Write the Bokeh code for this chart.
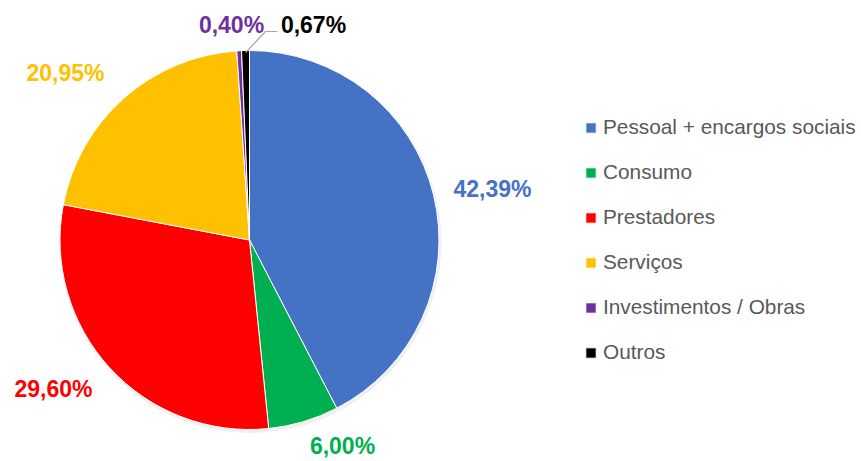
import math
from bokeh.plotting import figure
from bokeh.models import ColumnDataSource, Range1d, Legend, LegendItem
from bokeh.core.properties import value
from bokeh.embed import file_html
from bokeh.resources import INLINE

categories = ["Pessoal + encargos sociais", "Consumo", "Prestadores", "Serviços",
              "Investimentos / Obras", "Outros"]
values = [42.39, 6.00, 29.60, 20.95, 0.40, 0.67]
labels = ["42,39%", "6,00%", "29,60%", "20,95%", "0,40%", "0,67%"]
colors = ["#4472C4", "#00B050", "#FF0000", "#FFC000", "#7030A0", "#000000"]

W, H = 861, 461
cx, cy, R = 249, H - 239.5, 189.5

total = sum(values)
starts, ends, mids = [], [], []
acc = 0.0
for v in values:
    a0 = math.pi / 2 - acc / total * 2 * math.pi
    acc += v
    a1 = math.pi / 2 - acc / total * 2 * math.pi
    starts.append(a0)
    ends.append(a1)
    mids.append((a0 + a1) / 2)

src = ColumnDataSource(dict(cat=categories, val=values, start=starts, end=ends, color=colors))

p = figure(width=W, height=H, output_backend="svg", toolbar_location=None,
           x_range=Range1d(0, W), y_range=Range1d(0, H), min_border=0)
p.axis.visible = False
p.grid.visible = False
p.outline_line_color = None
p.background_fill_color = "white"

# faint shadow
p.circle(x=cx + 1, y=cy - 2, radius=R + 1.5, fill_color="#000000", fill_alpha=0.06, line_color=None)

r = p.wedge(x=cx, y=cy, radius=R, start_angle="start", end_angle="end", direction="clock",
            fill_color="color", line_color="white", line_width=1, source=src)

# label placement offsets (pixels from pie centre, screen right / up)
off_x = [243, 93, -196, -184, -18, 64]
off_y = [51, -206, -149, 167, 215, 215]
lx = [cx + dx for dx in off_x]
ly = [cy + dy for dy in off_y]
lsrc = ColumnDataSource(dict(x=lx, y=ly, t=labels, c=colors))
p.text(x="x", y="y", text="t", text_color="c", source=lsrc, text_align="center",
       text_baseline="middle", text_font=value("Liberation Sans"), text_font_size="23px",
       text_font_style="bold")

# leader line for "Outros"
m5 = mids[5]
ex, ey = cx + (R - 2) * math.cos(m5), cy + (R - 2) * math.sin(m5)
p.line(x=[ex, cx + 16, cx + 28], y=[ey, cy + 208.5, cy + 208.5], line_color="#A6A6A6", line_width=1.2)

items = [LegendItem(label=categories[i], renderers=[r], index=i) for i in range(len(categories))]
legend = Legend(items=items, location=(584, 95), orientation="vertical",
                glyph_width=13, glyph_height=13, label_text_font="Liberation Sans",
                label_text_font_size="20.8px", label_text_color="#595959",
                label_standoff=6, spacing=17, label_height=28, border_line_color=None,
                background_fill_alpha=0, padding=0, margin=0)
p.add_layout(legend, "center")

open("out.html", "w").write(file_html(p, INLINE))
